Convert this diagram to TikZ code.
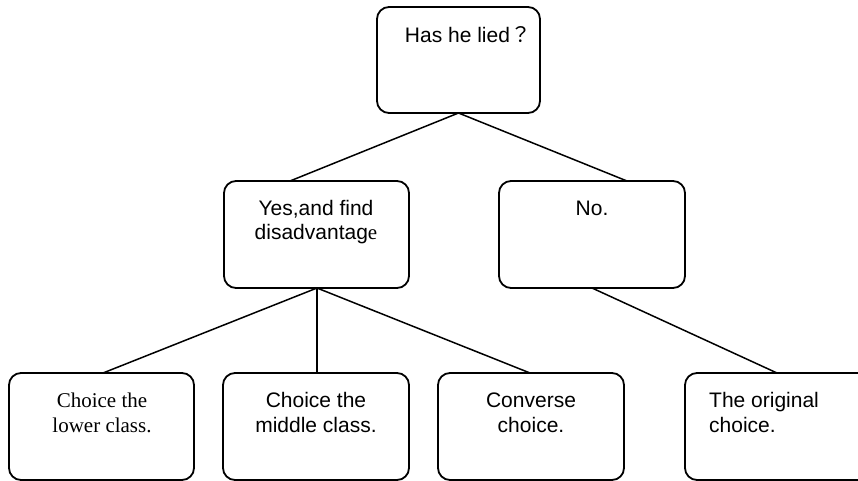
\documentclass[tikz,border=0pt]{standalone}
\usepackage{fontspec}
\setmainfont{Liberation Sans}
\newfontfamily\tnr{Liberation Serif}
\newfontfamily\cjk{Noto Sans CJK TC}
\begin{document}
\begin{tikzpicture}[x=1pt,y=-1pt,
  box/.style={draw,line width=1.8pt,rounded corners=12pt},
  lbl/.style={anchor=base,inner sep=0pt,font=\fontsize{21}{24}\selectfont},
  conn/.style={line width=1.5pt}]
\useasboundingbox (0,0) rectangle (858,481);
% boxes
\draw[box] (377,7) rectangle (540,113);
\draw[box] (224,181) rectangle (409,288);
\draw[box] (499,181) rectangle (685,288);
\draw[box] (9,373) rectangle (194,480);
\draw[box] (223,373) rectangle (409,480);
\draw[box] (438,373) rectangle (624,480);
\draw[box] (685,373) rectangle (875,480);
% connector coordinates
\coordinate (top-s) at (458.5,113);
\coordinate (yes-n) at (290,181);
\coordinate (no-n) at (627,181);
\coordinate (yes-s) at (317,288);
\coordinate (no-s) at (592,288);
\coordinate (b1-n) at (103,373);
\coordinate (b2-n) at (317,373);
\coordinate (b3-n) at (530,373);
\coordinate (b4-n) at (777,373);
\draw[conn] (top-s) -- (yes-n);
\draw[conn] (top-s) -- (no-n);
\draw[conn] (yes-s) -- (b1-n);
\draw[conn] (yes-s) -- (b2-n);
\draw[conn] (yes-s) -- (b3-n);
\draw[conn] (no-s) -- (b4-n);
% texts
\node[lbl] (t0) at (468,43) {Has he lied{\cjk ？}};
\node[lbl,align=center] (t1) at (316,239) {Yes,and find\\disadvantag{\tnr e}};
\node[lbl] (t2) at (592,215) {No.};
\node[lbl,align=center,font=\tnr\fontsize{21}{25}\selectfont] (t3) at (102,432) {Choice the\\lower class.};
\node[lbl,align=center,font=\fontsize{21}{25}\selectfont] (t4) at (316,432) {Choice the\\middle class.};
\node[lbl,align=center,font=\fontsize{21}{25}\selectfont] (t5) at (531,432) {Converse\\choice.};
\node[lbl,align=left,anchor=base west,font=\fontsize{21}{25}\selectfont] (t6) at (709,432) {The original\\choice.};
\end{tikzpicture}
\end{document}
